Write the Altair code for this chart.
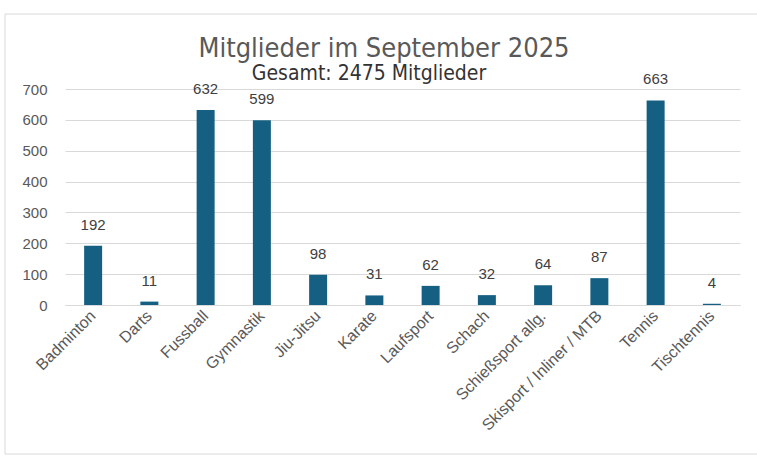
import altair as alt
import pandas as pd

categories = ["Badminton", "Darts", "Fussball", "Gymnastik", "Jiu-Jitsu", "Karate",
              "Laufsport", "Schach", "Schießsport allg.", "Skisport / Inliner / MTB",
              "Tennis", "Tischtennis"]
members = [192, 11, 632, 599, 98, 31, 62, 32, 64, 87, 663, 4]
y_ticks = [0, 100, 200, 300, 400, 500, 600, 700]
title_text = "Mitglieder im September 2025"
subtitle_text = "Gesamt: 2475 Mitglieder"

df = pd.DataFrame({"Sport": categories, "Mitglieder": members})

W, H = 675, 216
narrow = "Liberation Sans Narrow, DejaVu Sans Condensed, Arial Narrow, sans-serif"
sans = "Liberation Sans, Arial, sans-serif"

x_enc = alt.X("Sport:N", sort=categories,
              scale=alt.Scale(paddingInner=0.68, paddingOuter=0.34),
              axis=alt.Axis(title=None, labelAngle=-45, labelAlign="right",
                            labelBaseline="middle", labelFontSize=16,
                            labelColor="#595959", labelFont=sans,
                            ticks=False, domain=True, domainColor="#d9d9d9",
                            labelPadding=8, labelOverlap=False))
y_enc = alt.Y("Mitglieder:Q", scale=alt.Scale(domain=[0, 700], nice=False),
              axis=alt.Axis(title=None, values=y_ticks, grid=True, gridColor="#d9d9d9",
                            ticks=False, domain=False, labelFontSize=15,
                            labelColor="#595959", labelPadding=18,
                            labelOverlap=False, labelFont=sans))

base = alt.Chart(df).encode(x=x_enc, y=y_enc)
bars = base.mark_bar(color="#156082")
labels = base.mark_text(baseline="bottom", dy=-13, fontSize=15,
                        color="#404040", font=sans).encode(text="Mitglieder:Q")

title_df = pd.DataFrame({"t": [title_text]})
sub_df = pd.DataFrame({"t": [subtitle_text]})
title = alt.Chart(title_df).mark_text(fontSize=27, color="#595959", font=narrow,
                                      baseline="alphabetic", align="center").encode(
    x=alt.value(319), y=alt.value(-32), text="t:N")
subtitle = alt.Chart(sub_df).mark_text(fontSize=21, color="#333333", font=narrow,
                                       baseline="alphabetic", align="center").encode(
    x=alt.value(304), y=alt.value(-9), text="t:N")

frame_df = pd.DataFrame({"a": [0]})
frame = alt.Chart(frame_df).mark_rect(fill=None, stroke="#d9d9d9", strokeWidth=1).encode(
    x=alt.value(-60), x2=alt.value(W + 30), y=alt.value(-75), y2=alt.value(H + 149))

chart = alt.layer(frame, bars, labels, title, subtitle).properties(
    width=W, height=H,
    autosize=alt.AutoSizeParams(type="none"),
    padding={"left": 65, "top": 89, "right": 17, "bottom": 154},
    background="white",
).configure_view(stroke=None)

chart.save("out.html", embed_options={"renderer": "svg", "actions": False})
